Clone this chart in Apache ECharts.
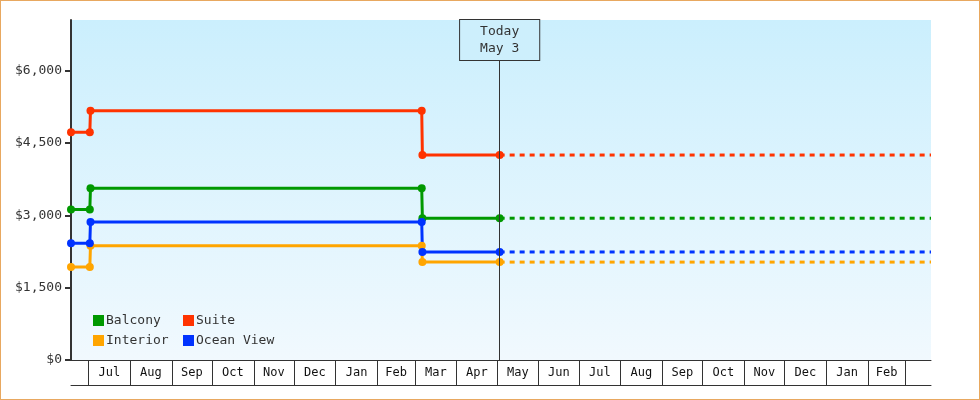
<!DOCTYPE html>
<html>
<head>
<meta charset="utf-8">
<script src="https://cdn.jsdelivr.net/npm/echarts@6/dist/echarts.min.js"></script>
<style>
  html, body { margin: 0; padding: 0; background: #fff; }
  #chart { width: 978px; height: 398px; border: 1px solid #e8a860; }
</style>
</head>
<body>
<div id="chart"></div>
<script>
// dates of the price points (old price, then new price half a day later)
var dates = ['2017-06-18 00:00', '2017-07-02 00:00', '2017-07-02 12:00',
             '2018-03-06 00:00', '2018-03-06 12:00', '2018-05-03 00:00'];
var balcony = [3120, 3120, 3560, 3560, 2940, 2940];
var suite = [4720, 4720, 5170, 5170, 4250, 4250];
var interior = [1930, 1930, 2370, 2370, 2030, 2030];
var oceanView = [2420, 2420, 2860, 2860, 2240, 2240];

var today = '2018-05-03 00:00';
var axisMin = '2017-06-18 00:00';
var axisMax = '2019-03-20 00:00';

var monthNames = ['Jan', 'Feb', 'Mar', 'Apr', 'May', 'Jun',
                  'Jul', 'Aug', 'Sep', 'Oct', 'Nov', 'Dec'];
// month boundaries drawn on the axis (Jul 2017 .. Mar 2019)
var monthStarts = ['2017-07-01', '2017-08-01', '2017-09-01', '2017-10-01', '2017-11-01',
                   '2017-12-01', '2018-01-01', '2018-02-01', '2018-03-01', '2018-04-01',
                   '2018-05-01', '2018-06-01', '2018-07-01', '2018-08-01', '2018-09-01',
                   '2018-10-01', '2018-11-01', '2018-12-01', '2019-01-01', '2019-02-01',
                   '2019-03-01'];
var yTicks = [0, 1500, 3000, 4500, 6000];

var names = ['Balcony', 'Suite', 'Interior', 'Ocean View'];
var colors = ['#009900', '#ff3300', '#ffa500', '#0033ff'];
var values = [balcony, suite, interior, oceanView];

function t(s) {
    var p = s.split(/[- :]/);
    return Date.UTC(+p[0], +p[1] - 1, +p[2], +(p[3] || 0), +(p[4] || 0));
}

var tickValues = monthStarts.map(t);
// label each full month in the middle of its cell
var labelValues = [];
for (var i = 0; i < tickValues.length - 1; i++) {
    labelValues.push((tickValues[i] + tickValues[i + 1]) / 2);
}

var font = 'DejaVu Sans Mono';
var series = [];
for (var k = 0; k < names.length; k++) {
    var pts = [];
    for (var j = 0; j < dates.length; j++) {
        pts.push([t(dates[j]), values[k][j]]);
    }
    series.push({
        name: names[k],
        type: 'line',
        data: pts,
        color: colors[k],
        symbol: 'circle',
        symbolSize: 8,
        lineStyle: { width: 3 },
        z: 3
    });
    // projected price after today
    var last = values[k][values[k].length - 1];
    series.push({
        name: names[k] + ' (projected)',
        type: 'line',
        data: [[t(today), last], [t(axisMax), last]],
        color: colors[k],
        symbol: 'none',
        lineStyle: { width: 3, type: [5, 5] },
        z: 2
    });
}

// today marker
series.push({
    name: 'today',
    type: 'line',
    data: [],
    markLine: {
        symbol: 'none',
        silent: true,
        animation: false,
        lineStyle: { color: '#333', width: 1, type: 'solid' },
        label: {
            position: 'end',
            distance: -40,
            formatter: 'Today\nMay 3',
            fontFamily: font,
            fontSize: 13,
            color: '#333',
            lineHeight: 17,
            backgroundColor: '#cdeffc',
            borderColor: '#333',
            borderWidth: 1,
            padding: [3, 20, 3, 20]
        },
        data: [{ xAxis: t(today) }]
    }
});

var legendText = { fontFamily: font, fontSize: 13, color: '#333', padding: [0, 0, 0, -3] };

var myChart = echarts.init(document.getElementById('chart'));
var option = {
    animation: false,
    grid: {
        left: 70, right: 48, top: 19, bottom: 39,
        show: true,
        borderWidth: 0,
        backgroundColor: {
            type: 'linear', x: 0, y: 0, x2: 0, y2: 1,
            colorStops: [
                { offset: 0, color: '#cbeffd' },
                { offset: 1, color: '#f1f9fe' }
            ]
        }
    },
    legend: [{
        orient: 'vertical',
        left: 92, top: 313,
        padding: 0,
        itemWidth: 11, itemHeight: 11, itemGap: 7,
        icon: 'rect',
        data: ['Balcony', 'Interior'],
        textStyle: legendText
    }, {
        orient: 'vertical',
        left: 182, top: 313,
        padding: 0,
        itemWidth: 11, itemHeight: 11, itemGap: 7,
        icon: 'rect',
        data: ['Suite', 'Ocean View'],
        textStyle: legendText
    }],
    xAxis: [{
        type: 'value',
        min: t(axisMin),
        max: t(axisMax),
        axisLine: { show: true, onZero: false, lineStyle: { color: '#333', width: 1 } },
        axisTick: {
            show: true,
            length: 25,
            customValues: tickValues,
            lineStyle: { color: '#333', width: 1 }
        },
        axisLabel: {
            customValues: labelValues,
            margin: 7,
            fontFamily: font,
            fontSize: 12,
            color: '#111',
            formatter: function (v) {
                return monthNames[new Date(v).getUTCMonth()];
            }
        },
        splitLine: { show: false }
    }, {
        type: 'value',
        position: 'bottom',
        offset: 25,
        min: t(axisMin),
        max: t(axisMax),
        axisLine: { show: true, onZero: false, lineStyle: { color: '#333', width: 1 } },
        axisTick: { show: false },
        axisLabel: { show: false },
        splitLine: { show: false }
    }],
    yAxis: {
        type: 'value',
        min: 0,
        max: 7050,
        axisLine: { show: true, lineStyle: { color: '#333', width: 2 } },
        axisTick: {
            show: true,
            length: 6,
            customValues: yTicks,
            lineStyle: { color: '#333', width: 2 }
        },
        axisLabel: {
            customValues: yTicks,
            margin: 9,
            fontFamily: font,
            fontSize: 13,
            color: '#333',
            formatter: function (v) {
                return '$' + v.toLocaleString('en-US');
            }
        },
        splitLine: { show: false }
    },
    series: series
};
myChart.setOption(option);
</script>
</body>
</html>
